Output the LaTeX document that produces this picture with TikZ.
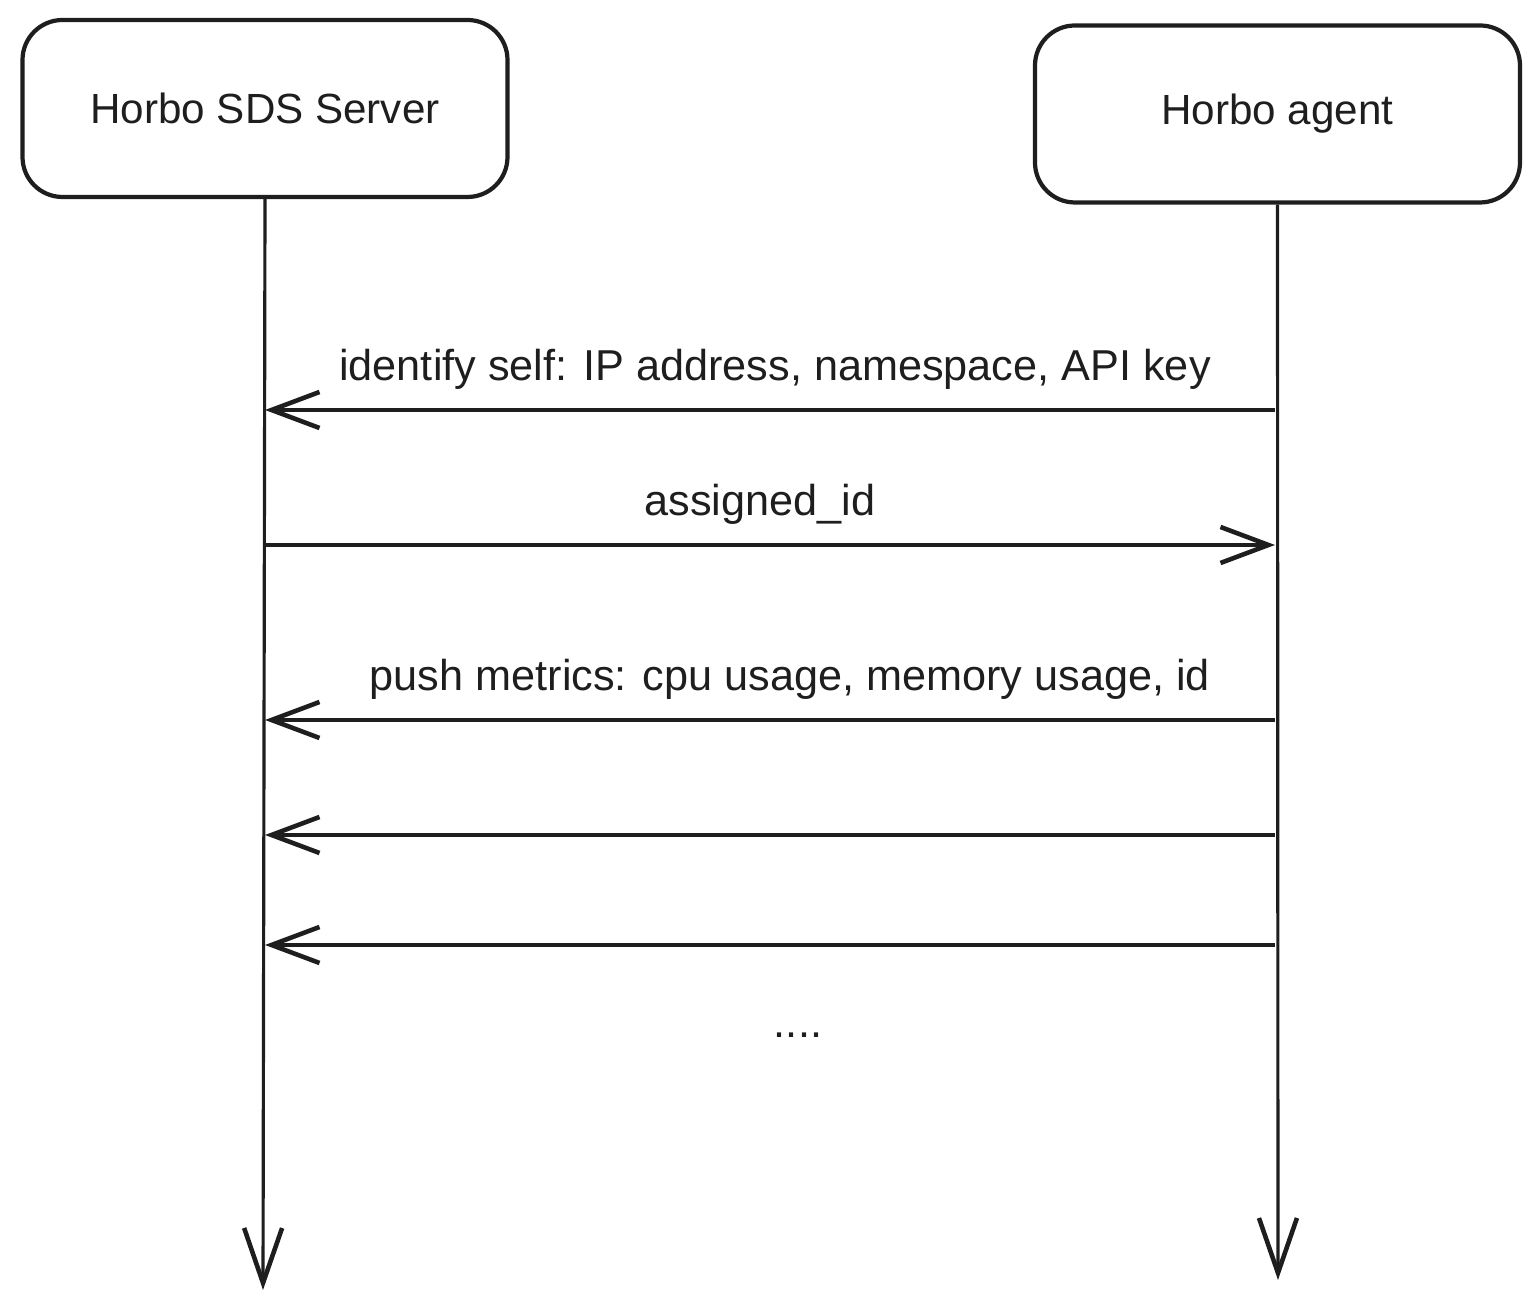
\documentclass[tikz,border=0pt]{standalone}
\usepackage{fontspec}
\setmainfont{Liberation Sans}
\usetikzlibrary{arrows.meta}
\definecolor{ink}{RGB}{30,30,30}
\tikzset{
  actor/.style={
    draw=ink,
    line width=1.2pt,
    rounded corners=0.4cm,
    minimum width=4.85cm,
    minimum height=1.77cm,
    font=\fontsize{12}{14}\selectfont,
    text=ink
  },
  lifeline/.style={
    draw=ink,
    line width=0.9pt,
    -{Straight Barb[length=5.5mm,width=3.8mm,line width=1.3pt]}
  },
  msg/.style={
    draw=ink,
    line width=0.9pt,
    -{Straight Barb[length=4.8mm,width=3.6mm,line width=1.3pt]}
  },
  msglabel/.style={font=\fontsize{12.3}{14}\selectfont, text=ink}
}

\begin{document}
\begin{tikzpicture}
  \useasboundingbox (0,0) rectangle (15.4,-13.09);
  \node[actor] (server) at (2.65,-1.085) {Horbo SDS Server};
  \node[actor] (agent) at (12.775,-1.14) {Horbo agent};
  \coordinate (serverend) at (2.63,-12.9);
  \coordinate (agentend) at (12.78,-12.8);
  \draw[lifeline] (server.south) -- (serverend);
  \draw[lifeline] (agent.south) -- (agentend);
  % points where the messages meet the lifelines
  \foreach \n/\y in {1/-4.10,2/-5.45,3/-7.20,4/-8.35,5/-9.45} {
    \coordinate (s\n) at (2.65,\y);
    \coordinate (a\n) at (12.75,\y);
  }
  \draw[msg] (a1) -- node[msglabel, above=2pt, xshift=0.05cm] (m1) {identify self: IP address, namespace, API key} (s1);
  \draw[msg] (s2) -- node[msglabel, above=2pt, xshift=-0.1cm] (m2) {assigned\_id} (a2);
  \draw[msg] (a3) -- node[msglabel, above=2pt, xshift=0.2cm] (m3) {push metrics: cpu usage, memory usage, id} (s3);
  \foreach \n in {4,5} {
    \draw[msg] (a\n) -- (s\n);
  }
  \node[msglabel] (more) at (7.98,-10.35) {....};
\end{tikzpicture}
\end{document}
